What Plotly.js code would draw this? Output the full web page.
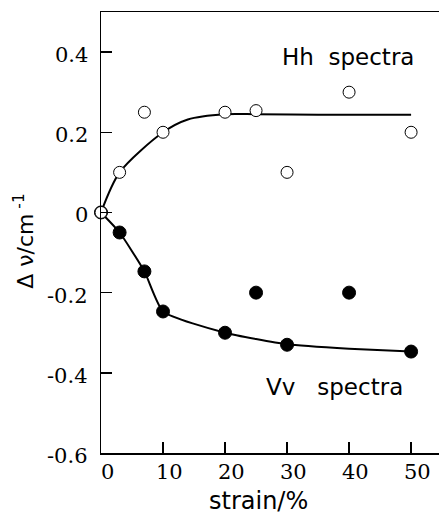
<!DOCTYPE html>
<html>
<head>
<meta charset="utf-8">
<script src="https://cdn.plot.ly/plotly-3.0.1.min.js"></script>
<style>
html,body{margin:0;padding:0;background:#fff;}
#chart{width:439px;height:515px;}
</style>
</head>
<body>
<div id="chart"></div>
<script>
// Measured points (strain %, Δν cm^-1)
const hhStrain = [0, 3, 7, 10, 20, 25, 30, 40, 50];
const hhShift  = [0, 0.10, 0.25, 0.20, 0.25, 0.254, 0.10, 0.30, 0.20];
const vvStrain = [0, 3, 7, 10, 20, 25, 30, 40, 50];
const vvShift  = [0, -0.05, -0.147, -0.247, -0.30, -0.20, -0.33, -0.20, -0.347];
// Guide curves
const hhCurveX = [0, 3, 10, 14, 20, 25, 35, 50];
const hhCurveY = [0, 0.10, 0.20, 0.232, 0.245, 0.245, 0.244, 0.244];
const vvCurveX = [0, 3, 7, 10, 20, 30, 40, 50];
const vvCurveY = [0, -0.05, -0.147, -0.247, -0.30, -0.329, -0.34, -0.347];
const xTicks = [0, 10, 20, 30, 40, 50];
const xTickText = ['0', '10', '20', '30', '40', '50'];
const yTicks = [-0.6, -0.4, -0.2, 0, 0.2, 0.4];
const yTickText = ['-0.6', '-0.4', '-0.2', '0', '0.2', '0.4'];

const traces = [
  {x: hhCurveX, y: hhCurveY, mode: 'lines', line: {color: '#000', width: 2, shape: 'spline', smoothing: 0.8}, hoverinfo: 'skip', cliponaxis: false},
  {x: vvCurveX, y: vvCurveY, mode: 'lines', line: {color: '#000', width: 2, shape: 'spline', smoothing: 0.5}, hoverinfo: 'skip', cliponaxis: false},
  {x: vvStrain, y: vvShift, mode: 'markers', marker: {symbol: 'circle', size: 13, color: '#000', line: {color: '#000', width: 1}}, cliponaxis: false},
  {x: hhStrain, y: hhShift, mode: 'markers', marker: {symbol: 'circle', size: 12, color: '#fff', line: {color: '#000', width: 1}}, cliponaxis: false}
];

const serif = 'DejaVu Serif, serif';
const sans = 'DejaVu Sans, sans-serif';
const tickFont = {family: serif, size: 21, color: '#000'};

// tick labels placed at the axis values through the axis scales
const xLabelAnns = xTicks.map(function (v, i) {
  return {x: v, y: -0.042, xref: 'x', yref: 'paper', text: xTickText[i], showarrow: false,
          xanchor: 'center', yanchor: 'middle', xshift: 6, font: tickFont};
});
const yLabelAnns = yTicks.map(function (v, i) {
  return {x: -0.032, y: v, xref: 'paper', yref: 'y', text: yTickText[i], showarrow: false,
          xanchor: 'right', yanchor: 'middle', yshift: -3, font: tickFont};
});

const layout = {
  width: 439, height: 515,
  margin: {l: 101, r: 0, t: 12, b: 62},
  paper_bgcolor: '#fff', plot_bgcolor: '#fff',
  showlegend: false,
  xaxis: {
    range: [0, 54.5], tickvals: xTicks, showticklabels: false,
    ticks: 'inside', ticklen: 11, tickwidth: 1.5, tickcolor: '#000',
    showline: true, linecolor: '#000', linewidth: 1.5, mirror: true,
    showgrid: false, zeroline: false
  },
  yaxis: {
    range: [-0.6, 0.5], tickvals: yTicks, showticklabels: false,
    ticks: 'inside', ticklen: 11, tickwidth: 1.5, tickcolor: '#000',
    showline: true, linecolor: '#000', linewidth: 1.5, mirror: false,
    showgrid: false, zeroline: false
  },
  annotations: xLabelAnns.concat(yLabelAnns, [
    {x: -0.228, y: 0.481, xref: 'paper', yref: 'paper', text: 'Δ ν/cm<sup> -1</sup>', textangle: -90, showarrow: false, xanchor: 'center', yanchor: 'middle', font: {family: sans, size: 22, color: '#000'}},
    {x: 0.467, y: -0.108, xref: 'paper', yref: 'paper', text: 'strain/%', showarrow: false, xanchor: 'center', yanchor: 'middle', font: {family: sans, size: 24, color: '#000'}},
    {x: 39.9, y: 0.389, xref: 'x', yref: 'y', text: 'Hh  spectra', showarrow: false, xanchor: 'center', yanchor: 'middle', font: {family: sans, size: 23, color: '#000'}},
    {x: 37.6, y: -0.436, xref: 'x', yref: 'y', text: 'Vv   spectra', showarrow: false, xanchor: 'center', yanchor: 'middle', font: {family: sans, size: 23, color: '#000'}}
  ])
};
Plotly.newPlot('chart', traces, layout, {staticPlot: true, displayModeBar: false});
</script>
</body>
</html>
